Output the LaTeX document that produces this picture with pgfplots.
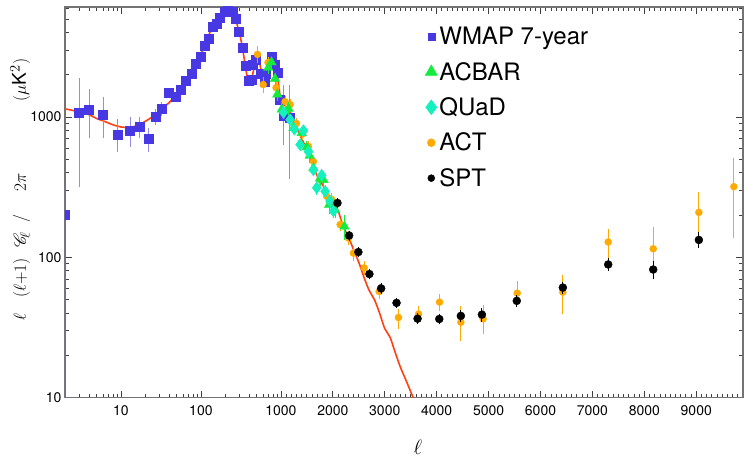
\documentclass[border=0pt]{standalone}
\usepackage{fontspec}
\setmainfont{TeX Gyre Heros}
\usepackage{mathrsfs}
\usepackage{pgfplots}
\pgfplotsset{compat=1.18}

\definecolor{wmap}{RGB}{72,56,228}
\definecolor{wmaperr}{RGB}{150,138,240}
\definecolor{acbar}{RGB}{20,235,60}
\definecolor{quad}{RGB}{20,240,190}
\definecolor{act}{RGB}{255,170,0}
\definecolor{theory}{RGB}{255,64,16}

% log scale up to l=1000, linear above
\pgfplotsset{
  hybridx/.style={
    x coord trafo/.code={%
      \begingroup
      \pgfkeys{/pgf/fpu=true,/pgf/fpu/output format=fixed}%
      \pgfmathparse{##1<=1000 ? log10(##1) : 3+(##1-1000)*0.000649}%
      \global\let\hybridres\pgfmathresult
      \endgroup
      \let\pgfmathresult\hybridres}
  }
}

\begin{document}
\begin{tikzpicture}
\path[use as bounding box] (-65pt,-62.5pt) rectangle (683pt,397.5pt);
\begin{axis}[
  hybridx,
  scale only axis,
  width=678pt, height=390.5pt,
  ymode=log,
  xmin=2, xmax=9900,
  ymin=10, ymax=6100,
  xtick={10,100,1000,2000,3000,4000,5000,6000,7000,8000,9000},
  xticklabels={10,100,1000,2000,3000,4000,5000,6000,7000,8000,9000},
  minor xtick={3,4,5,6,7,8,9,20,30,40,50,60,70,80,90,200,300,400,500,600,700,800,900,1100,1200,...,9800},
  ytick={10,100,1000},
  yticklabels={10,100,1000},
  minor ytick={20,30,40,50,60,70,80,90,200,300,400,500,600,700,800,900,2000,3000,4000,5000,6000},
  tick align=inside,
  xtick pos=both, ytick pos=both,
  major tick length=7pt, minor tick length=4pt,
  every tick/.style={black!75, line width=0.8pt},
  axis line style={black!55, line width=1.4pt},
  tick label style={font=\fontsize{14}{16}\selectfont},
  xticklabel style={yshift=-5pt},
  xlabel={$\ell$},
  xlabel style={font=\fontsize{20}{22}\selectfont, at={(axis description cs:0.5206,-0.127)}, anchor=center},
  clip marker paths=true,
  legend style={draw=none, fill=none, at={(axis description cs:0.531,0.954)}, anchor=north west,
    font=\fontsize{24}{28}\selectfont, row sep=12pt, inner sep=0pt},
  legend cell align=left,
  legend image code/.code={\draw[#1] plot coordinates {(0pt,0pt)};},
  error bars/y dir=both, error bars/y explicit,
]
% legend entries, in the order of the reference
\addlegendimage{only marks, mark=square*, mark size=3.5pt, color=wmap}
\addlegendentry{WMAP 7-year}
\addlegendimage{only marks, mark=triangle*, mark size=7pt, color=acbar}
\addlegendentry{ACBAR}
\addlegendimage{only marks, mark=diamond*, mark size=7.5pt, color=quad}
\addlegendentry{QUaD}
\addlegendimage{only marks, mark=*, mark size=4pt, color=act}
\addlegendentry{ACT}
\addlegendimage{only marks, mark=*, mark size=3.5pt, color=black}
\addlegendentry{SPT}

% best-fit model spectrum
\addplot[forget plot, theory, line width=1.6pt, smooth, no marks, error bars/y dir=none] coordinates {
(2,1145) (3,1090) (4,1040) (5,975) (6,940) (8,880) (10,850) (12,845) (15,860)
(20,930) (25,1010) (35,1180) (45,1360) (57,1570) (70,1850) (84,2300) (100,2800)
(123,3776) (145,4500) (164,4966) (190,5550) (220,5850) (245,5650) (270,5000)
(300,4060) (325,3300) (350,2550) (375,2000) (400,1780) (425,1800) (450,2100)
(480,2450) (510,2600) (540,2450) (570,2100) (600,1850) (630,1850) (670,2100)
(720,2450) (770,2600) (810,2500) (850,2300) (900,2000) (950,1600) (1000,1330)
(1100,1180) (1200,1050) (1300,850) (1400,700) (1500,590) (1600,470) (1700,380)
(1800,330) (1900,280) (2000,240) (2100,215) (2200,166) (2300,140) (2400,113)
(2500,92) (2600,72) (2700,58) (2800,50) (2900,40) (3000,31) (3100,27) (3200,21)
(3300,16.5) (3400,13.5) (3500,11) (3600,9)
};

% WMAP 7-year
\addplot[forget plot, only marks, mark=square*, mark size=4.5pt, color=wmap,
  error bars/error bar style={wmaperr, line width=1pt},
  error bars/error mark options={wmaperr, mark size=2pt, line width=1pt}] coordinates {
(2,200) += (0,110) -= (0,195)
(3,1070) += (0,755) -= (0,744)
(4,1125) += (0,405) -= (0,395)
(6,1037) += (0,313) -= (0,307)
(9,753) += (0,181) -= (0,173)
(13,805) += (0,170) -= (0,173)
(17,851) += (0,124) -= (0,121)
(22,702) += (0,113) -= (0,116)
(27,1003) += (0,96) -= (0,97)
(32,1150) += (0,95) -= (0,95)
(40,1496) += (0,0) -= (0,0)
(48,1400) += (0,0) -= (0,0)
(56,1563) += (0,0) -= (0,0)
(65,1824) += (0,0) -= (0,0)
(76,2023) += (0,0) -= (0,0)
(87,2422) += (0,0) -= (0,0)
(98,2691) += (0,0) -= (0,0)
(111,3206) += (0,0) -= (0,0)
(126,3622) += (0,0) -= (0,0)
(141,4377) += (0,0) -= (0,0)
(157,4655) += (0,0) -= (0,0)
(174,5083) += (0,0) -= (0,0)
(196,5637) += (0,0) -= (0,0)
(219,5860) += (0,0) -= (0,0)
(251,5612) += (0,0) -= (0,0)
(276,5023) += (0,0) -= (0,0)
(300,4060) += (0,0) -= (0,0)
(335,3120) += (0,0) -= (0,0)
(358,2333) += (0,0) -= (0,0)
(390,1830) += (0,0) -= (0,0)
(429,1854) += (0,0) -= (0,0)
(450,2371) += (0,0) -= (0,0)
(487,2546) += (0,0) -= (0,0)
(551,2036) += (0,0) -= (0,0)
(621,1800) += (0,0) -= (0,0)
(651,2035) += (0,0) -= (0,0)
(778,2690) += (0,0) -= (0,0)
(826,2370) += (0,0) -= (0,0)
(899,2090) += (0,0) -= (0,0)
(977,1333) += (0,0) -= (0,0)
(1048,1015) += (0,635) -= (0,365)
(1164,990) += (0,660) -= (0,614)
};

% ACT
\addplot[forget plot, only marks, mark=*, mark size=3.5pt, color=act,
  error bars/error bar style={act, line width=0.8pt},
  error bars/error mark options={act, mark size=2pt, line width=0.8pt}] coordinates {
(510,2800) +- (0,300)
(601,1706) +- (0,170)
(690,2450) +- (0,150)
(870,1620) +- (0,120)
(1080,1290) +- (0,80)
(1177,1228) +- (0,70)
(1300,900) +- (0,60)
(1420,760) +- (0,50)
(1530,618) +- (0,40)
(1626,483) +- (0,30)
(1750,360) +- (0,25)
(1883,272) +- (0,20)
(1979,258) +- (0,18)
(2141,171) +- (0,12)
(2301,137) +- (0,10)
(2397,107) +- (0,9)
(2603,84) +- (0,7)
(2892,57) +- (0,5)
(3264,37.2) += (0,4.5) -= (0,5.2)
(3651,39.4) +- (0,4)
(4056,47.9) +- (0,5)
(4466,34.4) += (0,8.9) -= (0,8.4)
(4894,36.4) += (0,8) -= (0,7)
(5551,55.5) += (0,10) -= (0,8.5)
(6430,56.4) +- (0,15.8)
(7304,128.5) += (0,25.5) -= (0,27.5)
(8171,115) +- (0,43)
(9050,209) += (0,75) -= (0,72)
(9724,319) += (0,178) -= (0,176)
};

% ACBAR
\addplot[forget plot, only marks, mark=triangle*, mark size=5.5pt, color=acbar,
  error bars/error bar style={acbar, line width=0.8pt},
  error bars/error mark options={acbar, mark size=2pt, line width=0.8pt}] coordinates {
(695,2250) +- (0,150)
(763,2460) +- (0,150)
(843,1876) +- (0,120)
(900,1450) +- (0,100)
(1015,1133) +- (0,80)
(1145,1150) +- (0,80)
(1241,838) +- (0,60)
(1401,771) +- (0,50)
(1497,610) +- (0,40)
(1555,530) +- (0,40)
(1626,433) +- (0,35)
(1755,366) +- (0,30)
(1819,357) +- (0,30)
(1929,237) +- (0,25)
(2044,218) +- (0,20)
(2223,166) +- (0,28)
};

% QUaD
\addplot[forget plot, only marks, mark=diamond*, mark size=6pt, color=quad,
  error bars/error bar style={quad, line width=0.8pt},
  error bars/error mark options={quad, mark size=2pt, line width=0.8pt}] coordinates {
(1050,1080) +- (0,80)
(1177,958) +- (0,60)
(1260,820) +- (0,50)
(1370,636) +- (0,40)
(1434,800) +- (0,45)
(1530,567) +- (0,35)
(1626,420) +- (0,30)
(1690,313) +- (0,25)
(1786,385) +- (0,25)
(1852,295) +- (0,20)
(1947,252) +- (0,18)
(2012,214) +- (0,16)
};

% SPT
\addplot[forget plot, only marks, mark=*, mark size=4pt, color=black,
  error bars/error bar style={black, line width=0.8pt},
  error bars/error mark options={black, mark size=2pt, line width=0.8pt}] coordinates {
(2089,244) +- (0,12)
(2314,143) +- (0,7)
(2492,109) +- (0,5)
(2704,76) +- (0,4)
(2930,60) +- (0,3)
(3227,47.3) +- (0,2.5)
(3632,36.5) +- (0,2)
(4050,36.3) +- (0,2)
(4466,38.2) +- (0,2.5)
(4871,39) +- (0,3)
(5543,48.9) +- (0,3)
(6430,60.8) +- (0,4)
(7304,88.9) +- (0,6)
(8171,81.8) +- (0,9.5)
(9050,133) +- (0,13)
};
\end{axis}
% y-axis label, set piece by piece as in the reference
\begin{scope}[every node/.style={rotate=90, anchor=base, inner sep=0pt, font=\fontsize{19}{21}\selectfont}]
\node at (-39pt,80.5pt) {$\ell$};
\node at (-39pt,119.5pt) {$(\ell{+}1)$};
\node at (-39pt,157.5pt) {$\mathscr{C}_{\!\ell}$};
\node at (-39pt,178.5pt) {$/$};
\node at (-39pt,215.5pt) {$2\pi$};
\node at (-39pt,317.5pt) {$(\mu\mathrm{K}^2)$};
\end{scope}
\end{tikzpicture}
\end{document}
